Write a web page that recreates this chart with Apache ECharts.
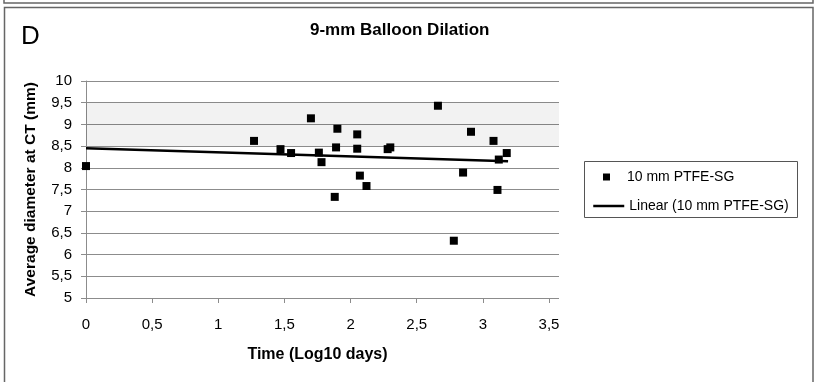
<!DOCTYPE html>
<html>
<head>
<meta charset="utf-8">
<script src="https://cdn.jsdelivr.net/npm/echarts@6/dist/echarts.min.js"></script>
<style>
  html, body { margin: 0; padding: 0; background: #fff; }
  #chart { width: 820px; height: 382px; }
</style>
</head>
<body>
<div id="chart"></div>
<script>
// ---- Data ----
const scatterName = '10 mm PTFE-SG';
const trendName = 'Linear (10 mm PTFE-SG)';
const timeLog10 = [0, 1.27, 1.47, 1.55, 1.70, 1.76, 1.78, 1.88, 1.89, 1.90, 2.05, 2.05, 2.07, 2.12, 2.28, 2.30, 2.66, 2.78, 2.85, 2.91, 3.08, 3.11, 3.12, 3.18];
const diameter  = [8.04, 8.62, 8.43, 8.34, 9.14, 8.35, 8.13, 7.33, 8.47, 8.90, 8.77, 8.44, 7.82, 7.58, 8.43, 8.47, 9.43, 6.32, 7.89, 8.83, 8.62, 7.49, 8.19, 8.34];
const trendX = [0, 3.19];
const trendY = [8.45, 8.15];
const bandRange = [8.5, 9.5];
const xTicks = [0, 0.5, 1, 1.5, 2, 2.5, 3, 3.5];
const yTicks = [5, 5.5, 6, 6.5, 7, 7.5, 8, 8.5, 9, 9.5, 10];

const FONT = "'Liberation Sans', Arial, sans-serif";
const comma = v => String(v).replace('.', ',');
const gridColor = '#8c8c8c';

const chart = echarts.init(document.getElementById('chart'), null, { renderer: 'canvas' });

const option = {
  backgroundColor: '#fff',
  animation: false,
  title: [
    { text: '9-mm Balloon Dilation', left: 310, top: 22, padding: 0,
      textStyle: { fontFamily: FONT, fontSize: 17, fontWeight: 'bold', color: '#000' } },
    { text: 'D', left: 21, top: 24, padding: 0,
      textStyle: { fontFamily: FONT, fontSize: 26, fontWeight: 'normal', color: '#000' } }
  ],
  grid: [
    { left: 86, top: 81, right: 261, bottom: 84 },
    { left: 86, top: 81, right: 271, bottom: 84 }
  ],
  xAxis: [
    { type: 'value', gridIndex: 0, min: xTicks[0], max: 3.575,
      axisLine: { show: false }, axisTick: { show: false }, axisLabel: { show: false }, splitLine: { show: false } },
    { type: 'value', gridIndex: 1, min: xTicks[0], max: xTicks[xTicks.length - 1], interval: 0.5,
      name: 'Time (Log10 days)', nameLocation: 'middle', nameGap: 49,
      nameTextStyle: { fontFamily: FONT, fontSize: 16, fontWeight: 'bold', color: '#000' },
      axisLine: { show: true, lineStyle: { color: gridColor, width: 1 } },
      axisTick: { show: true, inside: false, length: 5, lineStyle: { color: gridColor } },
      axisLabel: { margin: 19, fontFamily: FONT, fontSize: 15, color: '#000', formatter: comma },
      splitLine: { show: false } }
  ],
  yAxis: [
    { type: 'value', gridIndex: 0, min: yTicks[0], max: yTicks[yTicks.length - 1], interval: 0.5,
      name: 'Average diameter at CT (mm)', nameLocation: 'middle', nameGap: 47, nameRotate: 90,
      nameTextStyle: { fontFamily: FONT, fontSize: 15.5, fontWeight: 'bold', color: '#000' },
      axisLine: { show: true, lineStyle: { color: gridColor, width: 1 } },
      axisTick: { show: true, inside: false, length: 5, lineStyle: { color: gridColor } },
      axisLabel: { margin: 14, fontFamily: FONT, fontSize: 15, color: '#000', formatter: comma },
      splitLine: { show: true, lineStyle: { color: gridColor, width: 1 } } },
    { type: 'value', gridIndex: 1, min: yTicks[0], max: yTicks[yTicks.length - 1], show: false }
  ],
  legend: [
    { data: [scatterName], left: 603, top: 170, padding: 0, itemWidth: 7, itemHeight: 7, icon: 'rect',
      selectedMode: false, itemStyle: { color: '#000', opacity: 1 },
      textStyle: { fontFamily: FONT, fontSize: 14, color: '#000', padding: [0, 0, 0, 12] } },
    { data: [trendName], left: 592, top: 199, padding: 0, itemWidth: 31, itemHeight: 14,
      selectedMode: false, itemStyle: { opacity: 0 },
      lineStyle: { color: '#000', width: 2.5, opacity: 1 },
      textStyle: { fontFamily: FONT, fontSize: 14, color: '#000' } }
  ],
  series: [
    { name: trendName, type: 'line', xAxisIndex: 0, yAxisIndex: 0,
      data: trendX.map((x, i) => [x, trendY[i]]),
      symbol: 'none', z: 3,
      lineStyle: { color: '#000', width: 2.5 }, itemStyle: { color: '#000' } },
    { name: scatterName, type: 'scatter', xAxisIndex: 0, yAxisIndex: 0,
      data: timeLog10.map((x, i) => [x, diameter[i]]),
      symbol: 'rect', symbolSize: 8, z: 4,
      itemStyle: { color: '#000', opacity: 1 },
      markArea: { silent: true,
        itemStyle: { color: 'rgba(0,0,0,0.05)' },
        data: [[{ yAxis: bandRange[0] }, { yAxis: bandRange[1] }]] } }
  ],
  graphic: [
    { type: 'polyline', silent: true, shape: { points: [[4, 0], [4, 3], [813, 3], [813, 0]] },
      style: { fill: null, stroke: '#666', lineWidth: 1.5 } },
    { type: 'rect', silent: true, shape: { x: 4.5, y: 7.5, width: 808.5, height: 400 },
      style: { fill: null, stroke: '#666', lineWidth: 1.5 } },
    { type: 'rect', silent: true, shape: { x: 584.5, y: 161.5, width: 213, height: 56 },
      style: { fill: null, stroke: '#555', lineWidth: 1 } }
  ]
};

chart.setOption(option);
</script>
</body>
</html>
